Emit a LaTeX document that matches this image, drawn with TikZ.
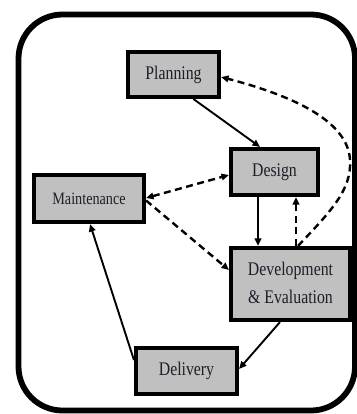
\documentclass[tikz,border=0pt]{standalone}
\usepackage{fontspec}
\setmainfont{Liberation Serif}
\usetikzlibrary{arrows.meta,calc}
\definecolor{boxgray}{RGB}{192,192,192}
\definecolor{ink}{RGB}{30,30,40}
% labels are set slightly taller than wide
\newcommand{\lbl}[1]{\scalebox{1}[1.22]{#1}}

\begin{document}
\begin{tikzpicture}[x=1pt,y=-1pt,
  stage/.style={draw=black, line width=3.6pt, fill=boxgray, text=ink,
    inner sep=0pt, font=\fontsize{15.8}{23}\selectfont},
  tip/.style={-{Triangle[length=7.5pt,width=6.5pt]}},
  flow/.style={line width=1.9pt, tip},
  loop/.style={line width=2.4pt, dash pattern=on 7pt off 4.5pt, tip}]

\useasboundingbox (0,0) rectangle (356,414);

% outer frame
\draw[line width=5.8pt, rounded corners=44pt] (18.5,14.5) rectangle (355,410.5);

% stages
\node[stage, minimum width=91.5pt, minimum height=45.5pt] (plan) at (173.5,74.5) {\lbl{Planning}};
\node[stage, minimum width=87.5pt, minimum height=46.5pt] (des) at (274.5,172) {\lbl{Design}};
\node[stage, minimum width=110.5pt, minimum height=47.5pt, font=\fontsize{14.2}{20}\selectfont] (mnt) at (89,198.5) {\lbl{Maintenance}};
\node[stage, minimum width=119.5pt, minimum height=72.5pt] (dev) at (290.5,284)
  {\lbl{\begin{tabular}{@{}c@{}}Development\\\& Evaluation\end{tabular}}};
\node[stage, minimum width=101.5pt, minimum height=46.5pt] (del) at (186.5,371) {\lbl{Delivery}};

% main flow
\draw[flow] ($(plan.south)+(20,0)$) -- ($(des.north)+(-14.5,0)$);
\draw[flow] ($(des.south)+(-16.5,0)$) -- ($(dev.north)+(-32.5,0)$);
\draw[flow] ($(dev.south)+(-10.5,0)$) -- ($(del.east)+(0,-2)$);
\draw[flow] ($(del.west)+(0,-11)$) -- ($(mnt.south)+(1,0)$);

% feedback paths
\draw[loop] ($(dev.north)+(5.5,0)$) -- ($(des.south)+(21.5,0)$);
\draw[loop] ($(dev.north)+(7.5,0)$) .. controls (330,212) and (352,190) .. (350,160)
  .. controls (348,120) and (290,95) .. ($(plan.east)+(0,2.5)$);
\draw[loop, {Triangle[length=7.5pt,width=6.5pt]}-{Triangle[length=7.5pt,width=6.5pt]}]
  ($(mnt.east)+(0,-0.5)$) -- ($(des.west)+(0,3)$);
\draw[loop] ($(mnt.east)+(0,2)$) -- ($(dev.west)+(0,-14)$);
\end{tikzpicture}
\end{document}
